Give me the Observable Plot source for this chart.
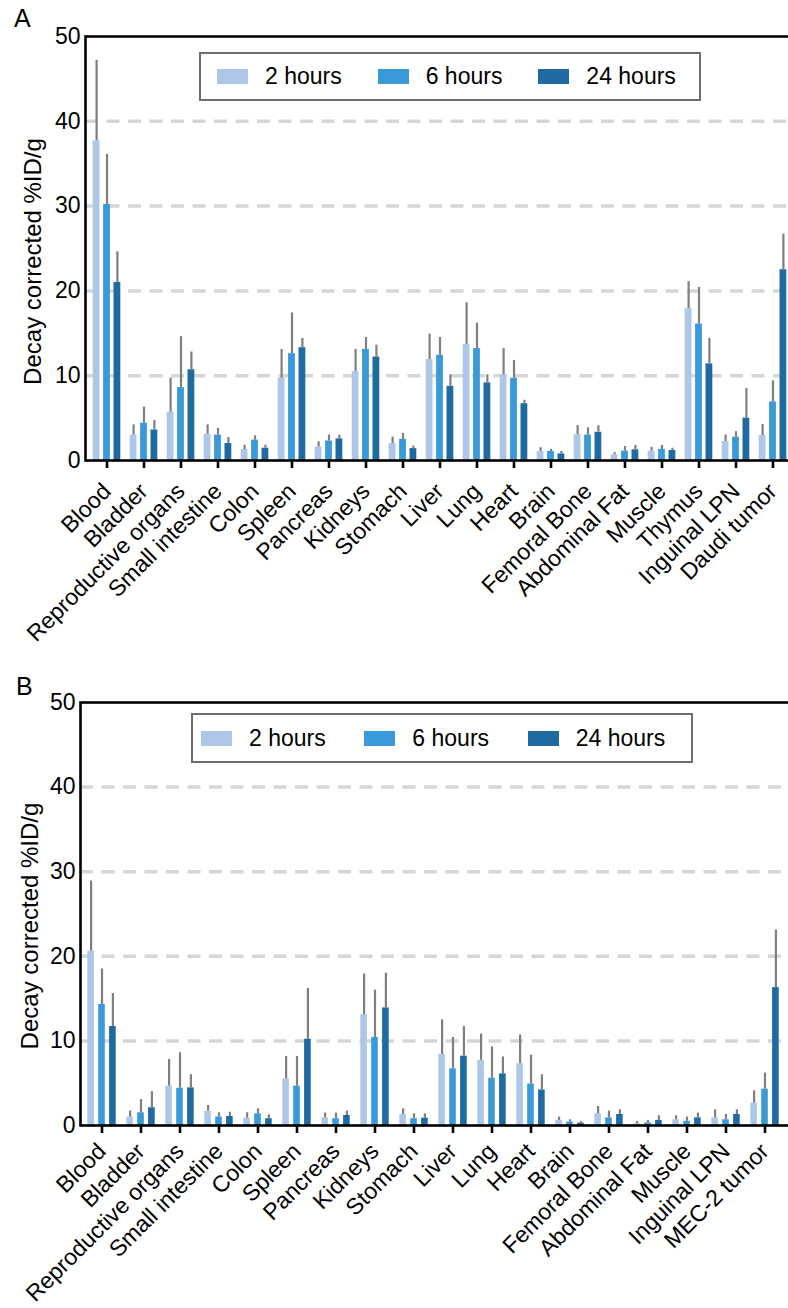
<!DOCTYPE html>
<html>
<head>
<meta charset="utf-8">
<script src="https://cdn.jsdelivr.net/npm/d3@7"></script>
<script src="https://cdn.jsdelivr.net/npm/@observablehq/plot@0.6"></script>
<style>
  html, body { margin: 0; padding: 0; background: #fff; overflow: hidden; }
  #page { position: relative; width: 788px; height: 1308px; overflow: hidden; font-family: "Liberation Sans", Arial, sans-serif; color: #000; }
  .panel { position: absolute; left: 0; width: 810px; }
  .panel svg { max-width: none !important; }
  .tag { position: absolute; font-size: 25px; line-height: 25px; }
  .legend { position: absolute; border: 2.5px solid #6e6e6e; box-sizing: border-box; display: flex; align-items: center; background: #fff; }
  .item { display: flex; align-items: center; width: 167px; font-size: 23px; }
  .sw { width: 31px; height: 15px; margin-right: 17px; }
</style>
</head>
<body>
<div id="page"></div>
<script>
// ---------- data ----------
const times = ["2 hours", "6 hours", "24 hours"];
const timeColors = ["#aec7e8", "#3a9ad9", "#1f6aa0"];

const organsA = ["Blood","Bladder","Reproductive organs","Small intestine","Colon","Spleen","Pancreas","Kidneys","Stomach","Liver","Lung","Heart","Brain","Femoral Bone","Abdominal Fat","Muscle","Thymus","Inguinal LPN","Daudi tumor"];
const meanA_2h  = [37.7, 3.0, 5.7, 3.1, 1.3, 9.7, 1.6, 10.5, 2.0, 11.9, 13.7, 10.1, 1.06, 3.06, 0.67, 1.1, 17.9, 2.24, 2.95];
const sdA_2h    = [9.5, 1.2, 4.0, 1.1, 0.5, 3.4, 0.6, 2.6, 0.75, 3.0, 4.9, 3.1, 0.45, 1.05, 0.25, 0.45, 3.2, 0.75, 1.3];
const meanA_6h  = [30.2, 4.4, 8.6, 3.0, 2.4, 12.6, 2.3, 13.1, 2.5, 12.4, 13.2, 9.7, 1.06, 3.0, 1.1, 1.3, 16.1, 2.75, 6.9];
const sdA_6h    = [5.9, 1.9, 6.0, 0.8, 0.5, 4.8, 0.7, 1.4, 0.7, 2.1, 3.0, 2.1, 0.25, 0.85, 0.55, 0.47, 4.3, 0.65, 2.5];
const meanA_24h = [21.0, 3.6, 10.7, 2.0, 1.45, 13.3, 2.55, 12.2, 1.4, 8.75, 9.15, 6.7, 0.78, 3.33, 1.26, 1.18, 11.4, 5.0, 22.5];
const sdA_24h   = [3.6, 1.1, 2.1, 0.7, 0.35, 1.1, 0.45, 1.4, 0.3, 1.35, 0.95, 0.4, 0.28, 0.77, 0.5, 0.27, 3.0, 3.5, 4.2];

const organsB = ["Blood","Bladder","Reproductive organs","Small intestine","Colon","Spleen","Pancreas","Kidneys","Stomach","Liver","Lung","Heart","Brain","Femoral Bone","Abdominal Fat","Muscle","Inguinal LPN","MEC-2 tumor"];
const meanB_2h  = [20.6, 1.0, 4.65, 1.7, 0.87, 5.5, 0.9, 13.1, 1.3, 8.4, 7.7, 7.3, 0.6, 1.38, 0.2, 0.67, 0.9, 2.64];
const sdB_2h    = [8.3, 0.7, 3.15, 0.66, 0.63, 2.66, 0.56, 4.8, 0.67, 4.1, 3.1, 3.4, 0.4, 0.87, 0.27, 0.48, 0.95, 1.46];
const meanB_6h  = [14.3, 1.5, 4.4, 1.0, 1.38, 4.65, 0.8, 10.4, 0.8, 6.7, 5.6, 4.9, 0.4, 0.9, 0.3, 0.5, 0.67, 4.3];
const sdB_6h    = [4.2, 1.57, 4.2, 0.5, 0.59, 3.51, 0.66, 5.6, 0.58, 3.7, 3.7, 3.4, 0.27, 0.8, 0.3, 0.5, 0.63, 1.9];
const meanB_24h = [11.7, 2.1, 4.45, 1.06, 0.8, 10.2, 1.18, 13.9, 0.87, 8.2, 6.1, 4.2, 0.28, 1.3, 0.6, 0.9, 1.3, 16.3];
const sdB_24h   = [3.9, 1.9, 1.55, 0.51, 0.46, 6.0, 0.52, 4.1, 0.51, 3.5, 2.0, 1.8, 0.19, 0.55, 0.55, 0.56, 0.55, 6.8];

const yTicks = [0, 10, 20, 30, 40, 50];
const gridValues = [10, 20, 30, 40];
const yLabel = "Decay corrected %ID/g";

// ---------- build ----------
function rowsFor(organs, means, sds) {
  return organs.map((organ, i) => ({organ, value: means[i], sd: sds[i]}));
}

function panel(cfg) {
  const marks = [
    Plot.ruleY(gridValues, {stroke: "#d6d6d6", strokeWidth: 3.5, strokeDasharray: "13,8.5"})
  ];
  cfg.series.forEach((s, i) => {
    const dx = (i - 1) * cfg.offset;
    marks.push(Plot.barY(s, {x: "organ", y: "value", fill: timeColors[i], insetLeft: cfg.inset, insetRight: cfg.inset, dx}));
    marks.push(Plot.ruleX(s, {x: "organ", y1: "value", y2: d => d.value + d.sd, stroke: "#7f7f7f", strokeWidth: 2.2, dx}));
  });
  marks.push(Plot.frame({stroke: "#000", strokeWidth: 2.6}));
  marks.push(Plot.axisY({ticks: yTicks, tickSize: 0, tickPadding: 5, fontSize: 23, label: null}));
  marks.push(Plot.text([yLabel], {text: d => d, frameAnchor: "left", rotate: -90, textAnchor: "middle", lineAnchor: "middle", fontSize: 24, dx: cfg.labelDx, dy: cfg.labelDy}));
  marks.push(Plot.axisX({tickSize: 8, strokeWidth: 2.6, tickRotate: -45, tickPadding: cfg.tickPad, fontSize: 23, label: null}));
  return Plot.plot({
    width: cfg.width, height: cfg.height,
    marginLeft: cfg.marginLeft, marginTop: cfg.marginTop, marginBottom: cfg.marginBottom, marginRight: cfg.marginRight,
    style: {fontFamily: '"Liberation Sans", Arial, sans-serif', color: "#000", background: "transparent", overflow: "visible", maxWidth: "none"},
    x: {domain: cfg.organs, range: cfg.xRange, padding: 0},
    y: {domain: [0, 50]},
    marks
  });
}

function legend(left, top, width, height, padLeft) {
  const div = document.createElement("div");
  div.className = "legend";
  Object.assign(div.style, {left: left + "px", top: top + "px", width: width + "px", height: height + "px", paddingLeft: padLeft + "px"});
  times.forEach((t, i) => {
    const it = document.createElement("div");
    it.className = "item";
    const sw = document.createElement("div");
    sw.className = "sw";
    sw.style.background = timeColors[i];
    const tx = document.createElement("span");
    tx.textContent = t;
    it.appendChild(sw); it.appendChild(tx);
    div.appendChild(it);
  });
  return div;
}

const page = document.getElementById("page");

// Panel A
const seriesA = [rowsFor(organsA, meanA_2h, sdA_2h), rowsFor(organsA, meanA_6h, sdA_6h), rowsFor(organsA, meanA_24h, sdA_24h)];
const svgA = panel({organs: organsA, series: seriesA, width: 810, height: 650, marginLeft: 85, marginTop: 36, marginBottom: 190, marginRight: 10,
  xRange: [83.25, 795.75], inset: 15.1, offset: 10.4, labelDx: -52, labelDy: 13, tickPad: 19});
const wrapA = document.createElement("div"); wrapA.className = "panel"; wrapA.style.top = "0px"; wrapA.appendChild(svgA);
page.appendChild(wrapA);

// Panel B
const seriesB = [rowsFor(organsB, meanB_2h, sdB_2h), rowsFor(organsB, meanB_6h, sdB_6h), rowsFor(organsB, meanB_24h, sdB_24h)];
const svgB = panel({organs: organsB, series: seriesB, width: 810, height: 658, marginLeft: 80, marginTop: 52, marginBottom: 183, marginRight: 10,
  xRange: [78.3, 787.5], inset: 16.2, offset: 10.9, labelDx: -50, labelDy: 12, tickPad: 14});
const wrapB = document.createElement("div"); wrapB.className = "panel"; wrapB.style.top = "650px"; wrapB.appendChild(svgB);
page.appendChild(wrapB);

page.appendChild(legend(199, 52, 502, 49, 16));
page.appendChild(legend(191, 713, 502, 50, 8));

const tagA = document.createElement("div"); tagA.className = "tag"; tagA.textContent = "A";
Object.assign(tagA.style, {left: "14px", top: "6px"});
const tagB = document.createElement("div"); tagB.className = "tag"; tagB.textContent = "B";
Object.assign(tagB.style, {left: "16px", top: "674px"});
page.appendChild(tagA); page.appendChild(tagB);
</script>
</body>
</html>
